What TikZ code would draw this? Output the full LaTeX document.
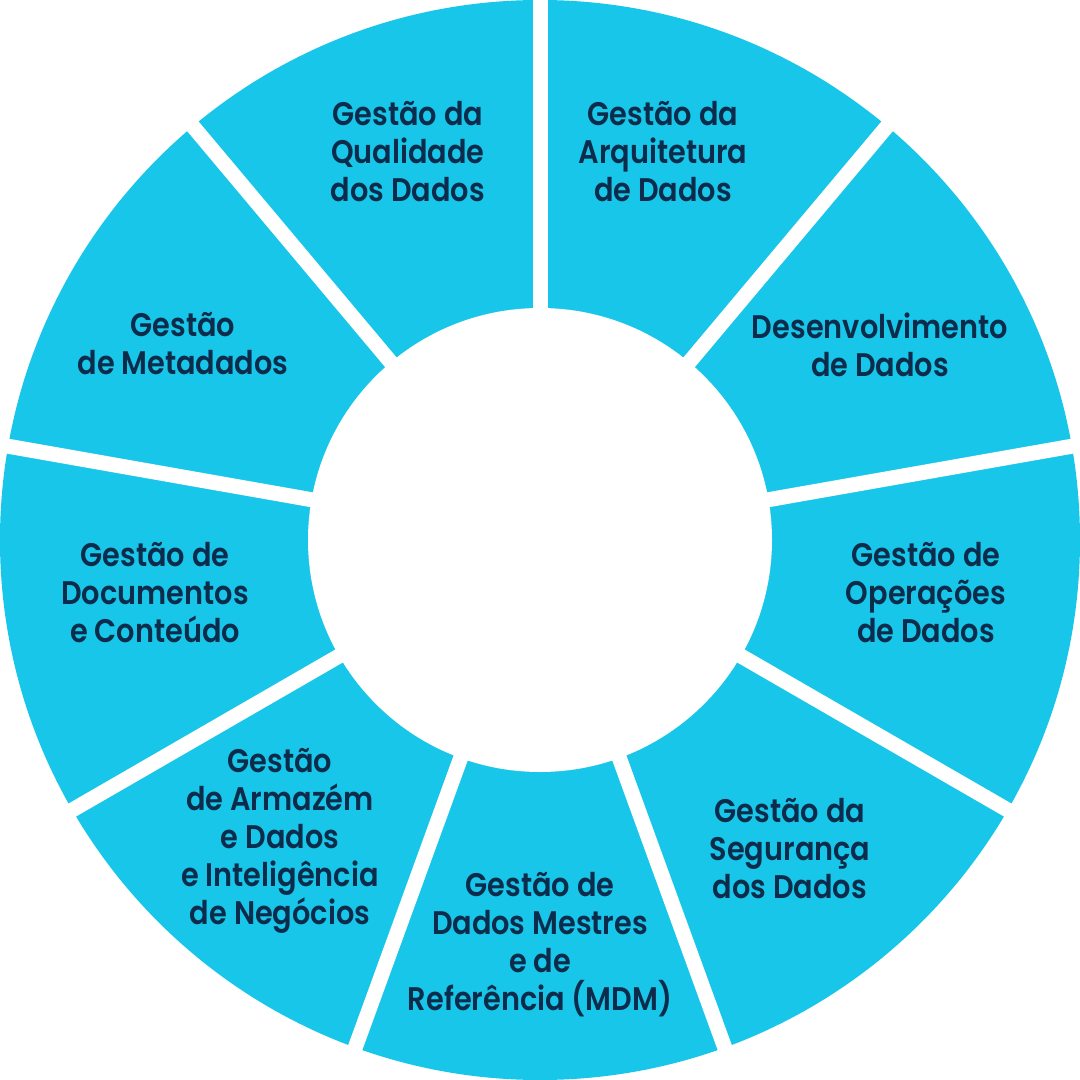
\documentclass[tikz,border=0pt]{standalone}
\usepackage{fontspec}
\setmainfont{Poppins}[UprightFont=* SemiBold, FakeStretch=0.88]
\usepackage{tikz}
\usetikzlibrary{positioning}
\definecolor{ringcyan}{RGB}{23, 198, 232}
\definecolor{navytext}{RGB}{13, 43, 74}

\begin{document}
\begin{tikzpicture}[
    area/.style={font=\fontsize{9.3}{10.8}\selectfont, text=navytext, align=center}
  ]
    \useasboundingbox (-5.4, -5.4) rectangle (5.4, 5.4);

    % Ring of knowledge areas
    \fill[ringcyan] (0, 0) circle (5.4cm);
    \foreach \ang in {90, 50, ..., -230}
        \draw[white, line width=0.15cm] (0, 0) -- (\ang:5.45);
    \fill[white] (0, 0) circle (2.32cm);

    % Area labels
    \node[area] (quality) at (-1.32, 3.88) {Gestão da\\Qualidade\\dos Dados};
    \node[area] (architecture) at (1.23, 3.88) {Gestão da\\Arquitetura\\de Dados};
    \node[area] (development) at (3.40, 1.95) {Desenvolvimento\\de Dados};
    \node[area] (operations) at (3.86, -0.53) {Gestão de\\Operações\\de Dados};
    \node[area] (security) at (2.50, -3.09) {Gestão da\\Segurança\\dos Dados};
    \node[area] (mdm) at (0, -4.05) {Gestão de\\Dados Mestres\\e de\\Referência (MDM)};
    \node[area] (warehouse) at (-2.60, -3.01) {Gestão\\de Armazém\\e Dados\\e Inteligência\\de Negócios};
    \node[area] (documents) at (-3.85, -0.53) {Gestão de\\Documentos\\e Conteúdo};
    \node[area] (metadata) at (-3.57, 1.96) {Gestão\\de Metadados};
\end{tikzpicture}
\end{document}
